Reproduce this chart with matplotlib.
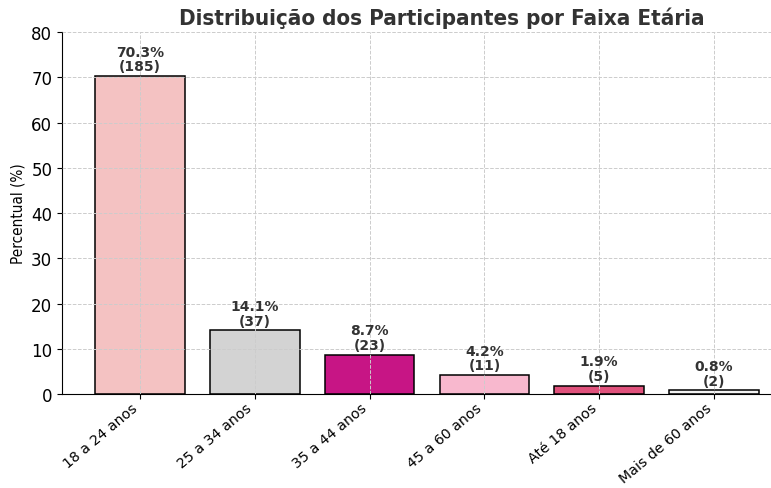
import matplotlib
matplotlib.use('Agg')
import matplotlib.pyplot as plt

faixas = ['18 a 24 anos', '25 a 34 anos', '35 a 44 anos', '45 a 60 anos', 'Até 18 anos', 'Mais de 60 anos']
percentual = [70.3, 14.1, 8.7, 4.2, 1.9, 0.8]
contagem = [185, 37, 23, 11, 5, 2]
cores = ['#F4C2C2', '#D3D3D3', '#C71585', '#F8B8CE', '#E0527C', '#F2F2F2']

fig = plt.figure(figsize=(7.71, 4.89), dpi=100)
ax = fig.add_axes([0.0804, 0.192, 0.935, 0.7405])

bars = ax.bar(range(len(faixas)), percentual, width=0.78, color=cores, edgecolor='black', linewidth=1.1, zorder=1)

for b, p, c in zip(bars, percentual, contagem):
    ax.text(b.get_x() + b.get_width() / 2, b.get_height() + 0.6, f'{p}%\n({c})',
            ha='center', va='bottom', fontsize=10, fontweight='bold', color='#333333',
            linespacing=1.05, zorder=3)

ax.set_xlim(-0.68, 5.6)
ax.set_ylim(0, 80)
ax.set_xticks(range(len(faixas)))
ax.set_xticklabels(faixas, rotation=40, ha='right', fontsize=10.2)
ax.tick_params(axis='x', pad=1)
ax.tick_params(axis='y', labelsize=12)
ax.set_ylabel('Percentual (%)', fontsize=11, fontstretch='condensed')
ax.set_title('Distribuição dos Participantes por Faixa Etária', fontsize=16, fontweight='bold',
             color='#333333', fontstretch='condensed', pad=6, x=0.527)
ax.grid(True, linestyle='--', color='#cccccc', linewidth=0.7, zorder=2)
ax.set_axisbelow(False)
for s in ['top', 'right']:
    ax.spines[s].set_visible(False)

fig.savefig('out.png', dpi=100)
